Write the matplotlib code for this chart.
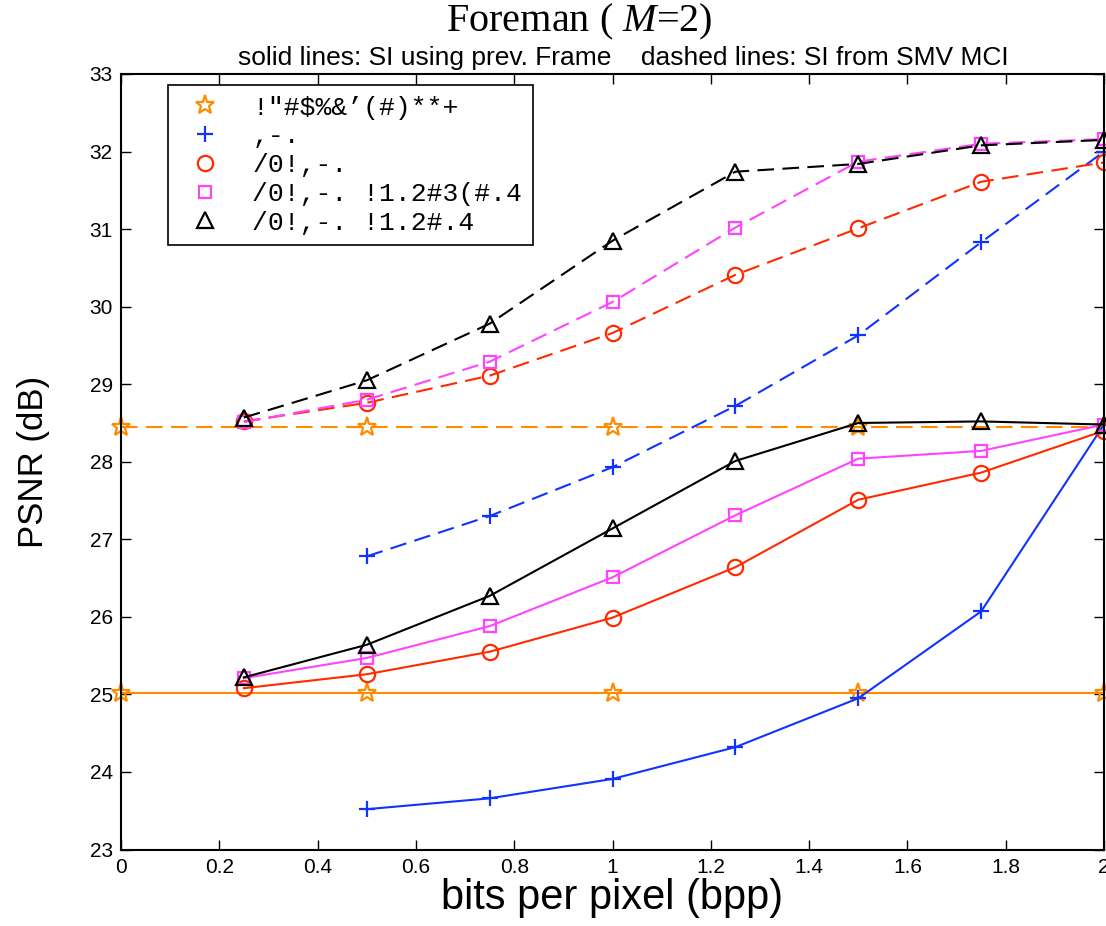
import numpy as np
import matplotlib.pyplot as plt
from matplotlib.lines import Line2D

plt.rcParams['font.family'] = ['Liberation Sans', 'DejaVu Sans']
plt.rcParams['mathtext.fontset'] = 'custom'
plt.rcParams['mathtext.it'] = 'Liberation Serif:italic'
plt.rcParams['mathtext.rm'] = 'Liberation Serif'

# bit rates (bpp)
rate_star = [0.0, 0.5, 1.0, 1.5, 2.0]
rate_plus = [0.5, 0.75, 1.0, 1.25, 1.5, 1.75, 2.0]
rate_full = [0.25, 0.5, 0.75, 1.0, 1.25, 1.5, 1.75, 2.0]

# solid: side info from previous frame
star_solid = [25.02, 25.02, 25.02, 25.02, 25.02]
plus_solid = [23.52, 23.66, 23.91, 24.32, 24.95, 26.07, 28.48]
circ_solid = [25.08, 25.26, 25.55, 25.99, 26.64, 27.51, 27.86, 28.40]
sq_solid = [25.21, 25.47, 25.88, 26.51, 27.31, 28.04, 28.14, 28.48]
tri_solid = [25.22, 25.64, 26.27, 27.14, 28.01, 28.50, 28.52, 28.48]

# dashed: side info from SMV MCI
star_dash = [28.45, 28.45, 28.45, 28.45, 28.45]
plus_dash = [26.78, 27.30, 27.93, 28.72, 29.63, 30.83, 32.00]
circ_dash = [28.52, 28.76, 29.11, 29.66, 30.41, 31.01, 31.61, 31.86]
sq_dash = [28.51, 28.80, 29.29, 30.06, 31.02, 31.87, 32.10, 32.16]
tri_dash = [28.57, 29.05, 29.78, 30.85, 31.74, 31.84, 32.08, 32.15]

legend_labels = ['!"#$%&\u2019(#)**+', ',-.', '/0!,-.',
                 '/0!,-. !1.2#3(#.4', '/0!,-. !1.2#.4']

orange = '#ff8c00'
blue = '#1133ff'
red = '#ff2a00'
pink = '#ff44ff'
black = '#000000'

styles = [
    (rate_star, star_solid, star_dash, orange, '*', 14),
    (rate_plus, plus_solid, plus_dash, blue, '+', 11),
    (rate_full, circ_solid, circ_dash, red, 'o', 11),
    (rate_full, sq_solid, sq_dash, pink, 's', 8),
    (rate_full, tri_solid, tri_dash, black, '^', 11),
]

fig = plt.figure(figsize=(11.06, 9.26), dpi=100)
ax = fig.add_axes([0.1094, 0.0826, 0.8888, 0.8375])

for x, ys, yd, c, m, ms in styles:
    ax.plot(x, ys, color=c, lw=1.5, marker=m, ms=ms, mfc='none',
            mew=1.6, clip_on=False)
    ax.plot(x, yd, color=c, lw=1.5, ls=(0, (8, 4)), marker=m, ms=ms,
            mfc='none', mew=1.6, clip_on=False)

ax.set_xlim(0, 2)
ax.set_ylim(23, 33)
ax.set_xticks(np.arange(0, 2.01, 0.2))
ax.set_xticklabels(['0', '0.2', '0.4', '0.6', '0.8', '1', '1.2', '1.4',
                    '1.6', '1.8', '2'])
ax.set_yticks(range(23, 34))
ax.tick_params(direction='in', length=7, width=1, top=True, right=True,
               labelsize=15, pad=6)
for s in ax.spines.values():
    s.set_linewidth(1.5)

ax.set_xlabel('bits per pixel (bpp)', fontsize=30, labelpad=1)
ax.set_ylabel('PSNR (dB)', fontsize=25)
ax.yaxis.set_label_coords(-0.072, 0.5)

fig.text(0.524, 0.976, 'Foreman ( $M$=2)', ha='center', va='center',
         fontsize=29, family='Liberation Serif')
fig.text(0.564, 0.937,
         'solid lines: SI using prev. Frame    dashed lines: SI from SMV MCI',
         ha='center', va='center', fontsize=19)

handles = [Line2D([], [], ls='none', color=c, marker=m, ms=ms, mfc='none',
                  mew=1.6) for _, _, _, c, m, ms in styles]
leg = ax.legend(handles, legend_labels, loc='upper left',
                bbox_to_anchor=(0.0478, 0.9858), borderaxespad=0,
                fancybox=False, edgecolor='black', framealpha=1,
                borderpad=0.4, labelspacing=0.18, handlelength=2.0,
                handletextpad=0.8,
                prop={'family': 'Liberation Mono', 'size': 19})
leg.get_frame().set_linewidth(1.2)

fig.savefig('out.png', dpi=100)
